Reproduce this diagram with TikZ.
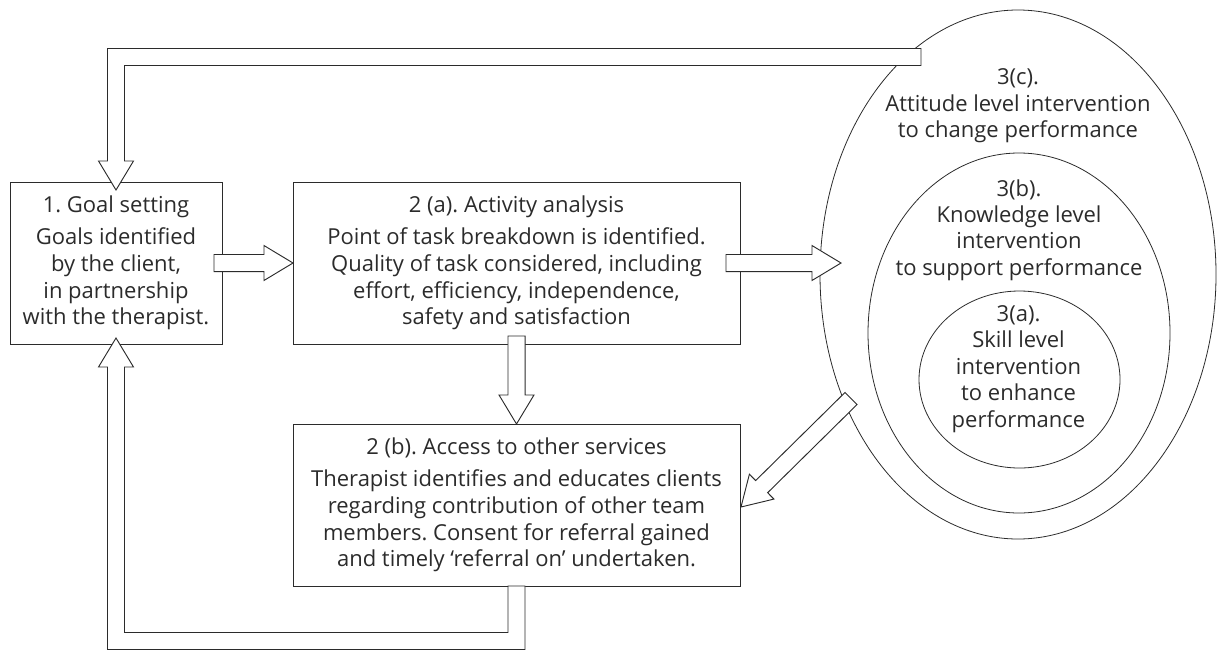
\documentclass[tikz,border=0pt]{standalone}
\usepackage{fontspec}
\setmainfont{Open Sans}
\usepackage{tikz}
\usetikzlibrary{calc}
\usetikzlibrary{positioning}
\usetikzlibrary{shapes.geometric}

\definecolor{ink}{HTML}{2B2B2B}
\frenchspacing

\tikzset{
    box/.style={draw=ink, line width=0.7pt, rectangle, minimum height=121.5pt,
        align=center, text=ink, inner sep=0pt, outer sep=0pt,
        font=\fontsize{16.5}{20}\selectfont},
    ring/.style={draw=ink, line width=0.6pt, ellipse, inner sep=0pt, outer sep=0pt},
    ringtext/.style={align=center, text=ink, font=\fontsize{16.5}{19.8}\selectfont},
    fatline/.style={draw=ink, fill=white, line width=0.7pt, line join=miter},
}

% hollow block arrow from #1 to #2
\newcommand{\fatarrow}[2]{%
    \coordinate (fab) at ($(#2)!21.75pt!(#1)$);
    \filldraw[fatline] ($(#1)!6.4pt!90:(#2)$) -- ($(fab)!6.4pt!-90:(#1)$)
        -- ($(fab)!13.1pt!-90:(#1)$) -- (#2) -- ($(fab)!13.1pt!90:(#1)$)
        -- ($(fab)!6.4pt!90:(#1)$) -- ($(#1)!6.4pt!-90:(#2)$) -- cycle;}

\begin{document}
\begin{tikzpicture}[x=0.75pt, y=-0.75pt]

    \useasboundingbox (0,0) rectangle (1219,650);

    % Nodes

    \node[box, minimum width=159pt] (goal) at (116,263)
        {1. Goal setting\\[4pt] Goals identified\\ by the client,\\
         in partnership\\ with the therapist.}; %
    \node[box, minimum width=335.25pt, right=53.25pt of goal] (act)
        {2 (a). Activity analysis\\[4pt] Point of task breakdown is identified.\\
         Quality of task considered, including\\ effort, efficiency, independence,\\
         safety and satisfaction}; %
    \node[box, minimum width=335.25pt, below=60pt of act] (acc)
        {2 (b). Access to other services\\[4pt] Therapist identifies and educates clients\\
         regarding contribution of other team\\ members. Consent for referral gained\\
         and timely ‘referral on’ undertaken.}; %

    % More nodes
    \node[ring, minimum width=297pt, minimum height=396.75pt] (att) at (1018,274.5) {}; %
    \node[ring, minimum width=226.5pt, minimum height=270pt] (know) at (1019,333) {}; %
    \node[ring, minimum width=150.75pt, minimum height=132.75pt] (skill) at (1019.5,379.5) {}; %

    \node[ringtext] (atttxt) at ($(att.north)+(0,96)$)
        {3(c).\\ Attitude level intervention\\ to change performance}; %
    \node[ringtext] (knowtxt) at ($(know.north)+(0,77)$)
        {3(b).\\ Knowledge level\\ intervention\\ to support performance}; %
    \node[ringtext] (skilltxt) at ($(skill.north)+(-1,78)$)
        {3(a).\\ Skill level\\ intervention\\ to enhance\\ performance}; %

    % Arrows
    \coordinate (g1) at ($(goal.east)+(-8,0)$);
    \fatarrow{g1}{act.west}

    \coordinate (a1) at ($(act.east)+(-14,0)$);
    \coordinate (a2) at ($(att.west |- act.east)+(21,0)$);
    \fatarrow{a1}{a2}

    \coordinate (a3) at ($(act.south)+(0,-8)$);
    \fatarrow{a3}{acc.north}

    \coordinate (d1) at ($(att.center)+(-167,124)$);
    \coordinate (d2) at ($(acc.east)+(1,2)$);
    \fatarrow{d1}{d2}

    % feedback to goal setting
    \coordinate (topr) at (921,57);
    \coordinate (topt) at ($(goal.north)+(0,8)$);
    \filldraw[fatline] ($(topr)+(0,-8.5)$) -| ($(topt)+(-8.5,-29)$) -- ++(-9,0)
        -- (topt) -- ($(topt)+(17.5,-29)$) -- ++(-9,0) |- ($(topr)+(0,8.5)$) -- cycle;

    \coordinate (bott) at ($(goal.south)+(0,-6)$);
    \filldraw[fatline] ($(acc.south)+(-8.5,0)$) -- ++(0,46.5) -| ($(bott)+(8.5,29)$)
        -- ++(9,0) -- (bott) -- ($(bott)+(-17.5,29)$) -- ++(9,0)
        |- ($(acc.south)+(8.5,63.5)$) -- ++(0,-63.5) -- cycle;

\end{tikzpicture}
\end{document}
